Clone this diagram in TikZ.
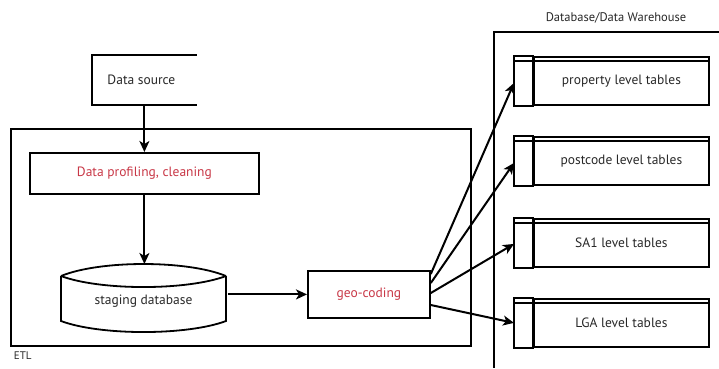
\documentclass[tikz,border=0pt]{standalone}
\usepackage{fontspec}
\setmainfont{PT Sans}
\usetikzlibrary{arrows.meta,calc}
\definecolor{redtxt}{RGB}{200,55,70}
\definecolor{txtgray}{RGB}{40,40,40}
\begin{document}
\begin{tikzpicture}[x=1pt,y=-1pt,line width=1.8pt,
  lbl/.style={font=\fontsize{13.5}{15}\selectfont,text=txtgray},
  redlbl/.style={font=\fontsize{13.5}{15}\selectfont,text=redtxt},
  plainbox/.style={draw,inner sep=0pt,anchor=north west},
  tbl/.style={draw,inner sep=0pt,anchor=north west,minimum width=175pt,minimum height=48pt,lbl},
  arr/.style={-{Stealth[length=11pt,width=10pt,inset=3pt]},line width=2pt}]
\useasboundingbox (0,0) rectangle (719,368);

% ETL container
\node[plainbox,line width=1.6pt,minimum width=460pt,minimum height=217pt] (etl) at (10,128) {};
\node[anchor=north west,inner sep=0pt,font=\fontsize{11}{12}\selectfont,text=txtgray] (etllbl) at ($(etl.south west)+(3,4)$) {ETL};

% DB container
\coordinate (dbtr) at (719,32);
\coordinate (dbtl) at (494,32);
\coordinate (dbbl) at (494,368);
\draw[line width=1.6pt] (dbtr) -- (dbtl) -- (dbbl);
\node[lbl,font=\fontsize{12.5}{14}\selectfont] (dblbl) at (616,18) {Database/Data Warehouse};

% Data source (open at right)
\node[lbl,inner sep=0pt,anchor=north west,minimum width=103pt,minimum height=48pt] (ds) at (92,55) {\hspace*{-6pt}Data source};
\draw (ds.north east) -- (ds.north west) -- (ds.south west) -- (ds.south east);

% Data profiling
\node[plainbox,redlbl,minimum width=229pt,minimum height=41pt] (prof) at (29,152) {Data profiling, cleaning};

% staging database
\node[lbl,inner sep=0pt,anchor=north west,minimum width=165pt,minimum height=68pt] (stg) at (61,264) {};
\node[lbl] (stglbl) at (143.5,301) {staging database};
\draw (61,276) .. controls (100,260) and (187,260) .. (226,276);
\draw (61,276) .. controls (100,290.7) and (187,290.7) .. (226,276);
\draw (61,276) -- (61,321) .. controls (100,335.7) and (187,335.7) .. (226,321) -- (226,276);

% geo-coding
\node[plainbox,redlbl,minimum width=122pt,minimum height=47pt] (geo) at (307,270) {geo-coding};

% tables
\foreach \i/\t/\txt in {1/56/property level tables,2/136/postcode level tables,3/218/SA1 level tables,4/298/LGA level tables}{
  \node[tbl] (b\i) at (533,\t) {\txt};
  \draw ($(b\i.north west)+(-19,0)$) rectangle (b\i.south west);
  \draw[line width=1.3pt] ($(b\i.north west)+(-19,5)$) -- ($(b\i.north east)+(0,5)$);
  \coordinate (in\i) at ($(b\i.west)+(-19,0)$);
}

% connectors
\draw[arr] (ds.south) -- (prof.north);
\draw[arr] (prof.south) -- (stg.north);
\draw[arr] (stg.east |- geo.west) -- (geo.west);
\coordinate (g1) at ($(geo.north east)+(0,4)$);
\coordinate (g2) at ($(geo.north east)+(0,13)$);
\coordinate (g3) at ($(geo.north east)+(0,23)$);
\coordinate (g4) at ($(geo.north east)+(0,35)$);
\draw[arr] (g1) -- ($(in1)+(0,2)$);
\draw[arr] (g2) -- ($(in2)+(0,2)$);
\draw[arr] (g3) -- ($(in3)+(0,1)$);
\draw[arr] (g4) -- (in4);
\end{tikzpicture}
\end{document}
